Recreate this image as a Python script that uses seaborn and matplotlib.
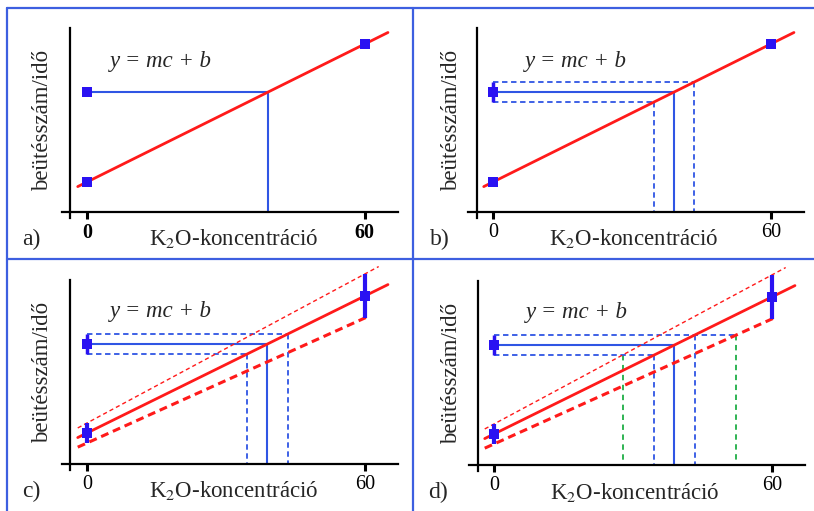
import numpy as np
import matplotlib.pyplot as plt
from matplotlib.lines import Line2D
import seaborn as sns

# calibration standards (arbitrary signal units)
std_conc = [0, 60]
std_signal_ab = [30, 168]
std_signal_cd = [31, 168]
std_err_cd = [10, 22]

# unknown sample
unknown_signal = 120
unknown_err = 10

tick_values = [0, 60]
tick_labels = ["0", "60"]
panel_letters = ["a)", "b)", "c)", "d)"]
xlabel_text = "K$_2$O-koncentráció"
ylabel_text = "beütésszám/idő"
equation_text = "y = mc + b"

# drawing extents of the lines (concentration units)
fit_range = [-2, 65]
upper_range = [-2, 63]
lower_range = [-2, 61]

RED = "#ff1a1a"
LINE_BLUE = "#2f55e4"
MARK_BLUE = "#2a12f2"
GREEN = "#1fae45"
BORDER = "#3d5fe0"

W, H = 814, 511
SX = 4.63  # pixels per concentration unit

sns.set_theme(style="white")
plt.rcParams["font.family"] = ["Liberation Serif", "DejaVu Serif"]
plt.rcParams["mathtext.fontset"] = "stix"

fig = plt.figure(figsize=(W / 100, H / 100), dpi=100)
fig.patch.set_facecolor("white")

# panel frame lines
def fig_line(x, y):
    fig.add_artist(Line2D([v / W for v in x], [1 - v / H for v in y],
                          transform=fig.transFigure, color=BORDER, lw=1.6))

fig_line([7, W], [8, 8])
fig_line([7, W], [259, 259])
fig_line([7, 7], [8, H])
fig_line([413, 413], [8, H])

# pixel origin (c=0, signal=0) of every panel
origins = [(87, 212), (493, 212), (87, 464), (494, 465)]
eq_dx = [23, 32, 23, 32]
eq_dy = [150, 150, 153, 153]
ylab_dx = [-44, -41, -44, -42]
xlab_dx = [147, 141, 147, 141]
letter_dx = [-56, -53, -56, -56]


def line_pts(fit, rng):
    xs = np.array(rng, dtype=float)
    return xs, np.polyval(fit, xs)


def guide(ax, y, c, color, ls, lw, x_end=None, z=2):
    x_end = c if x_end is None else x_end
    ax.plot([0, x_end], [y, y], color=color, ls=ls, lw=lw, zorder=z)
    ax.plot([c, c], [y, 0], color=color, ls=ls, lw=lw, zorder=z)


for i, (ox, oy) in enumerate(origins):
    left, right, top, bottom = ox - 80, ox + 322, oy - 204, oy + 46
    ax = fig.add_axes([left / W, 1 - bottom / H, (right - left) / W, (bottom - top) / H])
    ax.set_xlim(-80 / SX, 322 / SX)
    ax.set_ylim(-46, 204)
    ax.patch.set_alpha(0)

    for s in ["top", "right"]:
        ax.spines[s].set_visible(False)
    ax.spines["left"].set_position(("data", -16.5 / SX))
    ax.spines["left"].set_bounds(-6, 184)
    ax.spines["bottom"].set_position(("data", 0))
    ax.spines["bottom"].set_bounds(-25 / SX, 311 / SX)
    for s in ["left", "bottom"]:
        ax.spines[s].set_color("black")
        ax.spines[s].set_linewidth(1.6)
    ax.set_yticks([])
    ax.set_xticks(tick_values, tick_labels)
    ax.tick_params(axis="x", length=5, width=2.2, direction="out", pad=3,
                   labelsize=14.5, colors="black", bottom=True)
    if i == 0:
        for lbl in ax.get_xticklabels():
            lbl.set_fontweight("bold")

    signal = std_signal_ab if i < 2 else std_signal_cd
    fit = np.polyfit(std_conc, signal, 1)
    c_unk = (unknown_signal - fit[1]) / fit[0]

    xs, ys = line_pts(fit, fit_range)
    sns.lineplot(x=xs, y=ys, color=RED, lw=2, ax=ax, zorder=3)

    if i >= 2:
        up = np.polyfit(std_conc, np.add(signal, std_err_cd), 1)
        lo = np.polyfit(std_conc, np.subtract(signal, std_err_cd), 1)
        xs, ys = line_pts(up, upper_range)
        ax.plot(xs, ys, color=RED, lw=1.0, ls=(0, (3, 2.2)), zorder=3)
        xs, ys = line_pts(lo, lower_range)
        ax.plot(xs, ys, color=RED, lw=2.2, ls=(0, (2.6, 1.6)), zorder=3)
        ax.vlines(std_conc, np.subtract(signal, std_err_cd), np.add(signal, std_err_cd),
                  color=MARK_BLUE, lw=3, zorder=4)

    # unknown sample and read-off lines
    guide(ax, unknown_signal, c_unk, LINE_BLUE, "-", 1.5)
    if i >= 1:
        y_hi, y_lo = unknown_signal + unknown_err, unknown_signal - unknown_err
        c_hi = (y_hi - fit[1]) / fit[0]
        c_lo = (y_lo - fit[1]) / fit[0]
        x_end = None
        if i == 3:
            g_hi = (y_hi - lo[1]) / lo[0]
            g_lo = (y_lo - up[1]) / up[0]
            for g, y in [(g_lo, y_lo), (g_hi, y_hi)]:
                ax.plot([g, g], [y, 0], color=GREEN, ls=(0, (3, 2.5)), lw=1.3, zorder=1)
            x_end = g_hi
        guide(ax, y_hi, c_hi, LINE_BLUE, (0, (3, 2)), 1.3, x_end=x_end)
        guide(ax, y_lo, c_lo, LINE_BLUE, (0, (3, 2)), 1.3)
        ax.vlines([0], [y_lo], [y_hi], color=MARK_BLUE, lw=2.5, zorder=4)

    sns.scatterplot(x=std_conc, y=signal, marker="s", s=45, color=MARK_BLUE,
                    linewidth=0, ax=ax, zorder=5)
    sns.scatterplot(x=[0], y=[unknown_signal], marker="s", s=45, color=MARK_BLUE,
                    linewidth=0, ax=ax, zorder=5)

    ax.text(eq_dx[i] / SX, eq_dy[i], equation_text, style="italic", fontsize=16.5,
            ha="left", va="center")
    ax.text(ylab_dx[i] / SX, 92, ylabel_text, rotation=90, fontsize=16.5,
            ha="center", va="center")
    ax.text(xlab_dx[i] / SX, -27, xlabel_text, fontsize=16.5, ha="center", va="center")
    ax.text(letter_dx[i] / SX, -27, panel_letters[i], fontsize=17, ha="center", va="center")
    ax.set_xlabel("")
    ax.set_ylabel("")

fig.savefig("out.png", dpi=100)
